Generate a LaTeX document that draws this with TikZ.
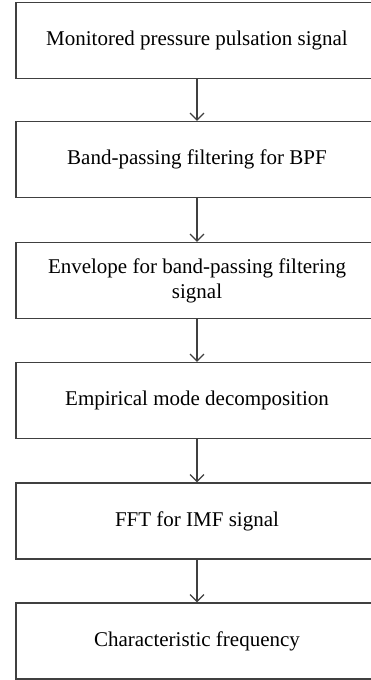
\documentclass[tikz,border=0pt]{standalone}
\usepackage{fontspec}
\setmainfont{Liberation Serif}
\usetikzlibrary{arrows.meta}

\begin{document}
\begin{tikzpicture}[x=1pt,y=-1pt,
  stepbox/.style={draw=black!75, line width=1.2pt, minimum width=362pt,
    minimum height=76pt, inner sep=0pt, align=center,
    font=\fontsize{21}{25}\selectfont},
  flow/.style={draw=black!75, line width=1.2pt,
    -{Straight Barb[length=7pt,width=14pt]}}]
\def\cx{197} % box centre
\useasboundingbox (0,0) rectangle (370,680);

% Boxes, top to bottom
\node[stepbox] (monitor) at (\cx,40.5) {Monitored pressure pulsation signal};
\node[stepbox] (band)    at (\cx,159.5) {Band-passing filtering for BPF};
\node[stepbox] (env)     at (\cx,280.5) {Envelope for band-passing filtering\\signal};
\node[stepbox] (emd)     at (\cx,400.5) {Empirical mode decomposition};
\node[stepbox] (fft)     at (\cx,521) {FFT for IMF signal};
\node[stepbox] (freq)    at (\cx,641) {Characteristic frequency};

% Arrows
\draw[flow] (monitor) -- (band);
\draw[flow] (band) -- (env);
\draw[flow] (env) -- (emd);
\draw[flow] (emd) -- (fft);
\draw[flow] (fft) -- (freq);

\end{tikzpicture}
\end{document}
